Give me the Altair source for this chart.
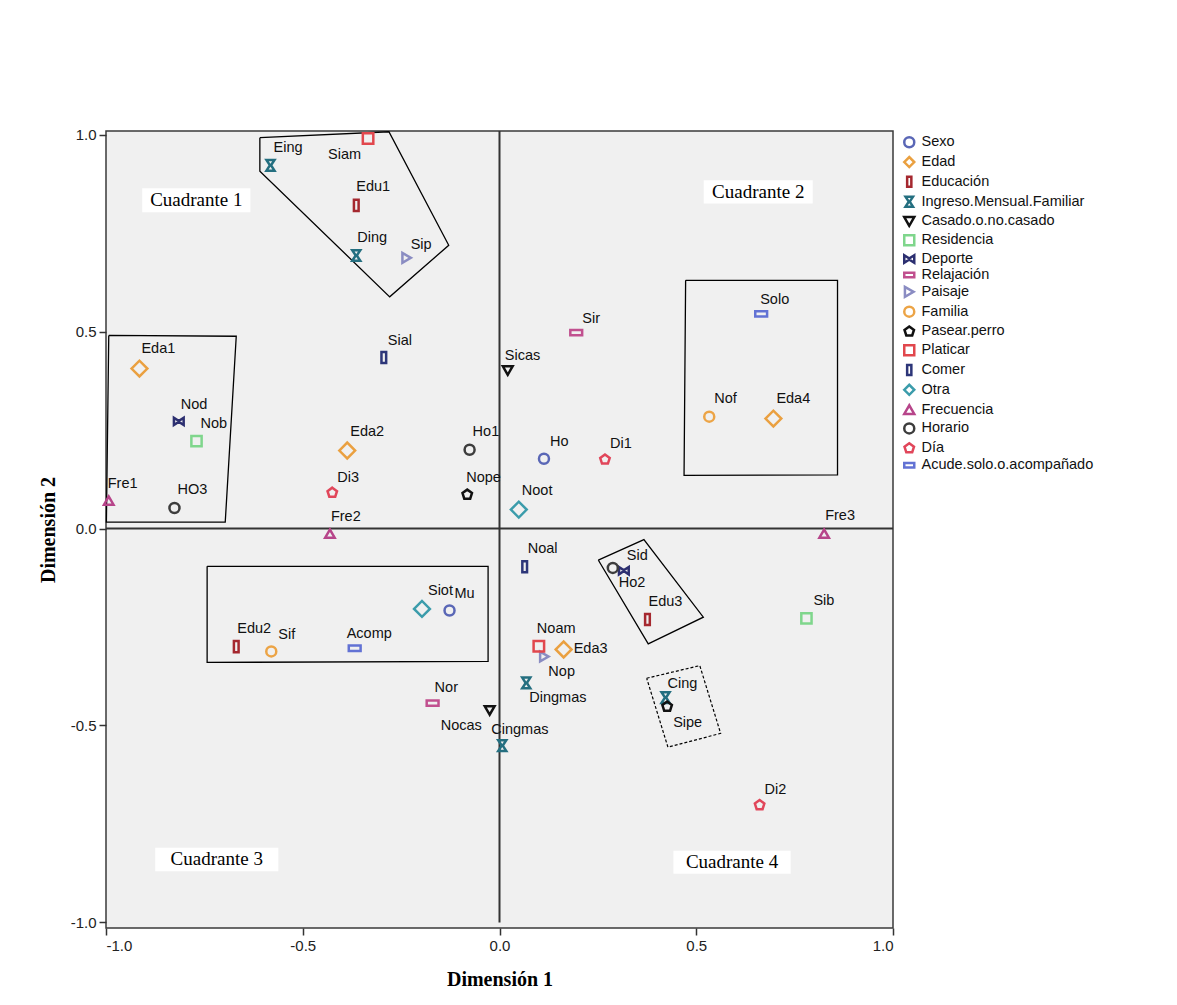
import altair as alt
import pandas as pd

# ---------------- data ----------------
groups = ["Sexo", "Edad", "Educación", "Ingreso.Mensual.Familiar", "Casado.o.no.casado",
          "Residencia", "Deporte", "Relajación", "Paisaje", "Familia", "Pasear.perro",
          "Platicar", "Comer", "Otra", "Frecuencia", "Horario", "Día",
          "Acude.solo.o.acompañado"]

group_colors = ["#5a67b6", "#eaa040", "#a5282f", "#246f80", "#111111",
                "#7fd68c", "#2c2f70", "#c1508f", "#8a8cc2", "#eca446", "#111111",
                "#e1474d", "#2d3679", "#3b9cab", "#b7458a", "#3d3d3d", "#e1465a",
                "#6272d4"]

vrect = "M-0.42,-1H0.42V1H-0.42Z"
hrect = "M-1,-0.45H1V0.45H-1Z"
hourglass = "M-0.75,-1H0.75L0.1,0L0.75,1H-0.75L-0.1,0Z"
bowtie = "M-1,-0.75L0,-0.1V0.1L-1,0.75Z M1,-0.75L0,-0.1V0.1L1,0.75Z"
pentagon = "M0,-1L0.95,-0.31L0.59,0.81L-0.59,0.81L-0.95,-0.31Z"

group_shapes = ["circle", "diamond", vrect, hourglass, "triangle-down",
                "square", bowtie, hrect, "triangle-right", "circle", pentagon,
                "square", vrect, "diamond", "triangle-up", "circle", pentagon,
                hrect]
group_sizes = [100, 250, 125, 115, 95, 105, 95, 140, 95, 100, 100,
               110, 125, 250, 90, 100, 100, 140]

point_names = ["Ho", "Mu",
               "Eda1", "Eda2", "Eda3", "Eda4",
               "Edu1", "Edu2", "Edu3",
               "Eing", "Ding", "Dingmas", "Cing", "Cingmas",
               "Sicas", "Nocas",
               "Nob", "Sib",
               "Nod", "Sid",
               "Sir", "Nor",
               "Sip", "Nop",
               "Nof", "Sif",
               "Nope", "Sipe",
               "Siam", "Noam",
               "Sial", "Noal",
               "Noot", "Siot",
               "Fre1", "Fre2", "Fre3",
               "Ho1", "Ho2", "HO3",
               "Di1", "Di2", "Di3",
               "Solo", "Acomp"]
point_group = ["Sexo"] * 2 + ["Edad"] * 4 + ["Educación"] * 3 + \
    ["Ingreso.Mensual.Familiar"] * 5 + ["Casado.o.no.casado"] * 2 + \
    ["Residencia"] * 2 + ["Deporte"] * 2 + ["Relajación"] * 2 + ["Paisaje"] * 2 + \
    ["Familia"] * 2 + ["Pasear.perro"] * 2 + ["Platicar"] * 2 + ["Comer"] * 2 + \
    ["Otra"] * 2 + ["Frecuencia"] * 3 + ["Horario"] * 3 + ["Día"] * 3 + \
    ["Acude.solo.o.acompañado"] * 2
dim1 = [0.113, -0.127,
        -0.915, -0.387, 0.163, 0.696,
        -0.364, -0.669, 0.376,
        -0.582, -0.364, 0.068, 0.422, 0.007,
        0.021, -0.025,
        -0.770, 0.780,
        -0.815, 0.316,
        0.195, -0.170,
        -0.236, 0.114,
        0.533, -0.580,
        -0.082, 0.426,
        -0.334, 0.100,
        -0.294, 0.064,
        0.049, -0.197,
        -0.993, -0.431, 0.825,
        -0.076, 0.288, -0.826,
        0.268, 0.661, -0.425,
        0.665, -0.368]
dim2 = [0.177, -0.208,
        0.406, 0.198, -0.307, 0.279,
        0.820, -0.300, -0.231,
        0.922, 0.693, -0.392, -0.429, -0.551,
        0.401, -0.462,
        0.222, -0.228,
        0.272, -0.107,
        0.497, -0.443,
        0.687, -0.325,
        0.284, -0.312,
        0.086, -0.452,
        0.990, -0.299,
        0.434, -0.097,
        0.048, -0.204,
        0.071, -0.013, -0.013,
        0.200, -0.100, 0.052,
        0.175, -0.702, 0.091,
        0.545, -0.304]

# label placement relative to each marker (pixels)
label_dx = [6, 5,
            2, 3, 10, 3,
            0, 1, 1,
            3, 1, 3, 2, -11,
            -3, -49,
            4, 7,
            2, 3,
            6, 2,
            4, 4,
            5, 7,
            -1, 6,
            -40, -2,
            4, 3,
            3, 6,
            -1, 1, 1,
            3, 6, 3,
            5, 5, 5,
            -1, -8]
label_dy = [-17, -16,
            -20, -19, 0, -20,
            -18, -18, -18,
            -17, -17, 15, -14, -16,
            -15, 15,
            -17, -17,
            -16, -15,
            -14, -15,
            -13, 15,
            -18, -16,
            -17, 16,
            17, -17,
            -17, -18,
            -19, -18,
            -17, -17, -18,
            -18, 15, -18,
            -16, -15, -15,
            -14, -14]

# hand-drawn grouping outlines (data coordinates)
outline_names = ["A", "B", "C", "D", "E"]
outline_x = [
    [-0.609, -0.281, -0.129, -0.279, -0.609, -0.609],
    [-0.993, -0.669, -0.697, -0.999, -0.993],
    [0.473, 0.859, 0.859, 0.469, 0.473],
    [-0.743, -0.029, -0.029, -0.743, -0.743],
    [0.251, 0.367, 0.518, 0.378, 0.251],
]
outline_y = [
    [0.992, 1.007, 0.719, 0.588, 0.907, 0.992],
    [0.490, 0.488, 0.016, 0.016, 0.490],
    [0.630, 0.630, 0.136, 0.135, 0.630],
    [-0.096, -0.096, -0.337, -0.340, -0.096],
    [-0.080, -0.028, -0.225, -0.293, -0.080],
]
dashed_x = [0.374, 0.509, 0.562, 0.428, 0.374]
dashed_y = [-0.380, -0.348, -0.520, -0.555, -0.380]

quad_text = ["Cuadrante 1", "Cuadrante 2", "Cuadrante 3", "Cuadrante 4"]
quad_x1 = [-0.908, 0.519, -0.875, 0.442]
quad_x2 = [-0.633, 0.796, -0.562, 0.740]
quad_y1 = [0.864, 0.884, -0.810, -0.818]
quad_y2 = [0.803, 0.825, -0.870, -0.876]

x_ticks = [-1.0, -0.5, 0.0, 0.5, 1.0]
y_ticks = [-1.0, -0.5, 0.0, 0.5, 1.0]
x_domain = [-1.0, 1.0]
y_domain = [-1.014, 1.009]

# ---------------- layout ----------------
W, H = 787, 797
px_x = W / (x_domain[1] - x_domain[0])
px_y = H / (y_domain[1] - y_domain[0])

size_of = dict(zip(groups, group_sizes))
pts = pd.DataFrame({"name": point_names, "grp": point_group, "d1": dim1, "d2": dim2,
                    "dx": label_dx, "dy": label_dy})
pts["sz"] = pts["grp"].map(size_of)
pts["lx"] = pts["d1"] + pts["dx"] / px_x
pts["ly"] = pts["d2"] - pts["dy"] / px_y

rows = []
for n, xs, ys in zip(outline_names, outline_x, outline_y):
    for i, (a, b) in enumerate(zip(xs, ys)):
        rows.append({"poly": n, "i": i, "x": a, "y": b})
outl = pd.DataFrame(rows)
dash = pd.DataFrame({"i": list(range(len(dashed_x))), "x": dashed_x, "y": dashed_y})

quad = pd.DataFrame({"t": quad_text, "x1": quad_x1, "x2": quad_x2, "y1": quad_y1, "y2": quad_y2})
quad["xc"] = (quad["x1"] + quad["x2"]) / 2
quad["yc"] = (quad["y1"] + quad["y2"]) / 2

label_expr = "replace(format(datum.value, '.1f'), '\u2212', '-')"
xs_ = alt.Scale(domain=x_domain, nice=False, zero=False)
ys_ = alt.Scale(domain=y_domain, nice=False, zero=False)
ax_x = alt.Axis(values=x_ticks, labelExpr=label_expr, grid=False, domain=False)
ax_y = alt.Axis(values=y_ticks, labelExpr=label_expr, grid=False, domain=False)
TX = "Dimensión 1"
TY = "Dimensión 2"


def X(f):
    return alt.X(f, scale=xs_, axis=ax_x, title=TX)


def Y(f):
    return alt.Y(f, scale=ys_, axis=ax_y, title=TY)


SANS = "Liberation Sans"
SERIF = "Liberation Serif"

boxes = alt.Chart(quad).mark_rect(color="white").encode(
    x=X("x1:Q"), x2="x2", y=Y("y1:Q"), y2="y2")
qtext = alt.Chart(quad).mark_text(font=SERIF, fontSize=19, color="black").encode(
    x=X("xc:Q"), y=Y("yc:Q"), text="t:N")

vline = alt.Chart(pd.DataFrame({"x": [0.0], "y": [-1.0], "y2": [y_domain[1]]})).mark_rule(
    color="#333333", strokeWidth=2).encode(x=X("x:Q"), y=Y("y:Q"), y2="y2")
hline = alt.Chart(pd.DataFrame({"y": [0.0], "x": [x_domain[0]], "x2": [x_domain[1]]})).mark_rule(
    color="#333333", strokeWidth=2).encode(y=Y("y:Q"), x=X("x:Q"), x2="x2")

outlines = alt.Chart(outl).mark_line(color="black", strokeWidth=1.3).encode(
    x=X("x:Q"), y=Y("y:Q"), detail="poly:N", order="i:Q")
dashed = alt.Chart(dash).mark_line(color="black", strokeWidth=1.2, strokeDash=[3, 2]).encode(
    x=X("x:Q"), y=Y("y:Q"), order="i:Q")

leg = alt.Legend(title=None, orient="none", legendX=796, legendY=4)
points = alt.Chart(pts).mark_point(filled=False, strokeWidth=2.5, opacity=1).encode(
    x=X("d1:Q"), y=Y("d2:Q"),
    color=alt.Color("grp:N", scale=alt.Scale(domain=groups, range=group_colors), legend=leg),
    shape=alt.Shape("grp:N", scale=alt.Scale(domain=groups, range=group_shapes), legend=leg),
    size=alt.Size("sz:Q", scale=None, legend=None),
)

labels = alt.Chart(pts).mark_text(font=SANS, fontSize=14.5, align="left",
                                  baseline="middle", color="#111111").encode(
    x=X("lx:Q"), y=Y("ly:Q"), text="name:N")

chart = alt.layer(boxes, qtext, vline, hline, outlines, dashed, points, labels).properties(
    width=W, height=H,
    autosize=alt.AutoSizeParams(type="none"),
    padding={"left": 98, "top": 123, "right": 260, "bottom": 60},
    background="white",
).configure_view(
    fill="#f0f0f0", stroke="#3a3a3a", strokeWidth=1.5
).configure_axis(
    labelFont=SANS, labelFontSize=15, labelColor="#222222",
    tickColor="#333333", tickWidth=1.5, tickSize=7, labelPadding=3,
    titleFont=SERIF, titleFontSize=20, titleFontWeight="bold", titleColor="black",
).configure_axisX(titlePadding=16).configure_axisY(titlePadding=12).configure_legend(
    labelFont=SANS, labelFontSize=14.5, labelColor="#111111",
    symbolSize=100, symbolStrokeWidth=2.5, rowPadding=-1.2, labelOffset=5, padding=0,
    labelLimit=400,
)

chart.save("out.html", embed_options={"renderer": "svg", "actions": False})
